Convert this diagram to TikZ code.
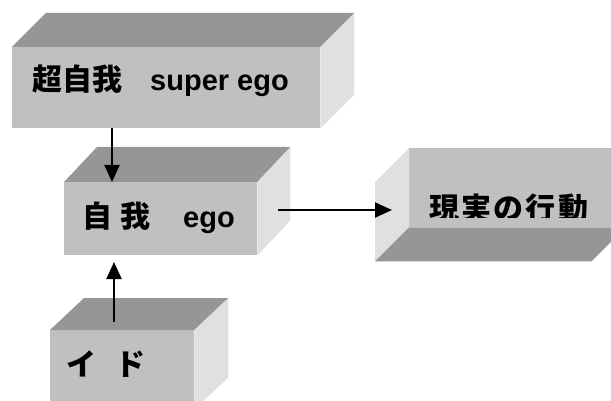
\documentclass[tikz,border=0pt]{standalone}
\usepackage{fontspec}
\setmainfont{Liberation Sans}
\newfontfamily\jp{Noto Sans CJK JP Bold}
\usetikzlibrary{arrows.meta,calc}
\definecolor{frontc}{HTML}{C0C0C0}
\definecolor{topc}{HTML}{969696}
\definecolor{sidec}{HTML}{E0E0E0}
\newcommand{\jpt}[1]{{\jp\fontsize{30}{30}\selectfont #1}}
\tikzset{
  front/.style={fill=frontc, draw=none, inner sep=0pt, anchor=north west},
  topface/.style={fill=topc, draw=none},
  sideface/.style={fill=sidec, draw=none},
  lbl/.style={inner sep=0pt, anchor=base west, font=\bfseries\fontsize{29}{29}\selectfont},
  conn/.style={line width=2pt, -{Triangle[length=17pt,width=15pt]}}
}
\begin{document}
\begin{tikzpicture}[x=1pt,y=-1pt]
\useasboundingbox (0,0) rectangle (611,401);
\clip (0,0) rectangle (611,401);
% box 1 : super ego
\node[front, minimum width=308pt, minimum height=81pt] (b1) at (12,47) {};
\fill[topface] (b1.north west) -- ++(34,-34) -- ($(b1.north east)+(34,-34)$) -- (b1.north east) -- cycle;
\fill[sideface] (b1.north east) -- ++(34,-34) -- ($(b1.south east)+(34,-34)$) -- (b1.south east) -- cycle;
\node[lbl] (t1) at (32,91) {\jpt{超自我}\hspace{28pt}super ego};
% box 2 : ego
\node[front, minimum width=193pt, minimum height=73pt] (b2) at (64,182) {};
\fill[topface] (b2.north west) -- ++(33,-35) -- ($(b2.north east)+(33,-35)$) -- (b2.north east) -- cycle;
\fill[sideface] (b2.north east) -- ++(33,-35) -- ($(b2.south east)+(33,-35)$) -- (b2.south east) -- cycle;
\node[lbl] (t2) at (82.5,228) {\jpt{自}\hspace{7.5pt}\jpt{我}\hspace{33pt}ego};
% box 3 : action
\node[front, minimum width=216pt, minimum height=79pt] (b3) at (409,148) {};
\fill[sideface] (b3.north west) -- ++(-34,34) -- ($(b3.south west)+(-34,34)$) -- (b3.south west) -- cycle;
\fill[topface] (b3.south west) -- ++(-34,34) -- ($(b3.south east)+(-34,34)$) -- (b3.south east) -- cycle;
\begin{scope}
\clip (409,148) rectangle (625,217.5);
\node[lbl] (t3) at (429,219) {\jpt{現\hspace{2.25pt}実\hspace{2.25pt}の\hspace{2.25pt}行\hspace{2.25pt}動}};
\end{scope}
% box 4 : id
\node[front, minimum width=144pt, minimum height=79pt] (b4) at (50,330) {};
\fill[topface] (b4.north west) -- ++(34,-32) -- ($(b4.north east)+(34,-32)$) -- (b4.north east) -- cycle;
\fill[sideface] (b4.north east) -- ++(34,-32) -- ($(b4.south east)+(34,-32)$) -- (b4.south east) -- cycle;
\node[lbl] (t4) at (66.5,375.5) {\jpt{イ}\hspace{19pt}\jpt{ド}};
% connectors
\coordinate (d1) at (112,128);
\coordinate (u1) at (114,322);
\coordinate (u2) at (114,262);
\coordinate (r1) at (278,210);
\coordinate (r2) at (392,210);
\draw[conn] (d1) -- (d1 |- b2.north);
\draw[conn] (u1) -- (u2);
\draw[conn] (r1) -- (r2);
\end{tikzpicture}
\end{document}
